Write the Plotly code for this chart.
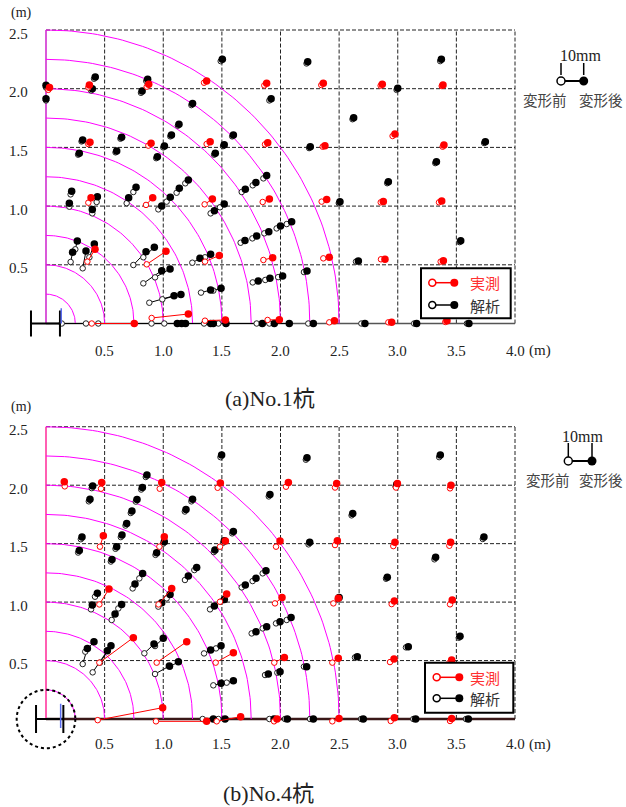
import numpy as np
import plotly.graph_objects as go

W, H = 626, 807

# ---------------- (a) No.1 pile ----------------
# measured (実測): before -> after positions, displacement exaggerated
a_meas_x0 = [0.02, 0.361, 0.859, 1.348, 1.862, 2.348, 2.854, 3.375,
             0.361, 0.873, 1.37, 1.868, 2.36, 2.956, 3.383,
             0.361, 0.853, 1.353, 1.848, 2.351, 2.855, 3.352,
             0.353, 0.859, 1.356, 1.854, 2.365, 2.857, 3.366,
             0.39, 0.901, 1.356, 1.89, 2.416, 2.92, 3.406]
a_meas_y0 = [1.99, 2.011, 2.017, 2.051, 2.028, 2.031, 2.026, 2.023,
             1.529, 1.515, 1.529, 1.526, 1.506, 1.597, 1.506,
             1.029, 1.01, 1.015, 1.035, 1.038, 1.032, 1.032,
             0.527, 0.504, 0.527, 0.541, 0.555, 0.547, 0.527,
             0.0, 0.047, 0.024, 0.03, 0.01, 0.01, 0.013]
a_meas_x1 = [0.03, 0.37, 0.876, 1.37, 1.882, 2.365, 2.868, 3.386,
             0.375, 0.896, 1.4, 1.891, 2.379, 2.976, 3.394,
             0.384, 0.91, 1.419, 1.905, 2.394, 2.877, 3.375,
             0.418, 1.023, 1.478, 1.933, 2.416, 2.891, 3.389,
             0.753, 1.214, 1.53, 1.99, 2.46, 2.948, 3.42]
a_meas_y1 = [2.01, 2.031, 2.037, 2.066, 2.046, 2.046, 2.037, 2.032,
             1.543, 1.535, 1.549, 1.54, 1.515, 1.614, 1.52,
             1.072, 1.072, 1.06, 1.06, 1.057, 1.04, 1.043,
             0.632, 0.615, 0.58, 0.561, 0.564, 0.547, 0.535,
             0.0, 0.081, 0.03, 0.033, 0.024, 0.01, 0.024]

# analysis (解析): before -> after positions
a_anal_x0 = [0.0, 0.0, 0.41, 0.385, 0.855, 0.81, 1.49, 1.24, 1.905, 2.222, 3.362, 2.99,
             1.125, 1.06, 1.0, 0.94, 1.588, 1.51, 1.434, 0.635, 0.593, 0.303, 0.274,
             2.614, 2.244, 3.737, 3.32, 2.91, 2.497, 3.527, 2.644, 2.2,
             0.21, 0.199, 0.432, 0.395, 0.745, 0.688, 1.188, 1.114, 1.029, 0.958,
             1.484, 1.404, 1.854, 1.763, 1.669, 2.053, 1.967, 1.862, 1.76, 1.66,
             0.21, 0.25, 0.313, 0.37, 0.745, 0.83, 0.83, 0.93, 0.881, 0.992,
             1.356, 1.248, 1.427, 1.322, 1.98, 1.87, 1.763,
             0.134, 0.341, 0.446, 0.9, 1.009, 1.348, 1.47, 1.797, 1.905, 2.237,
             2.69, 3.14, 3.59]
a_anal_y0 = [2.01, 1.9, 2.085, 1.985, 2.065, 1.965, 2.235, 1.86, 1.9, 2.215, 2.235, 1.99,
             1.685, 1.594, 1.5, 1.408, 1.594, 1.511, 1.438, 1.574, 1.458, 1.551, 1.438,
             1.74, 1.494, 1.537, 1.366, 1.195, 1.026, 0.693, 0.527, 0.438,
             1.1, 0.995, 1.035, 0.938, 1.12, 1.025, 1.194, 1.114, 1.038, 0.972,
             0.99, 0.938, 1.236, 1.177, 1.12, 0.847, 0.81, 0.768, 0.725, 0.688,
             0.524, 0.632, 0.47, 0.564, 0.498, 0.564, 0.342, 0.393, 0.177, 0.206,
             0.564, 0.518, 0.28, 0.263, 0.395, 0.371, 0.35,
             0.0, 0.0, 0.0, 0.0, 0.0, 0.0, 0.0, 0.0, 0.0, 0.0,
             0.0, 0.0, 0.0]
a_anal_x1 = [0.0, 0.0, 0.42, 0.395, 0.867, 0.82, 1.504, 1.25, 1.92, 2.232, 3.372, 3.0,
             1.134, 1.07, 1.01, 0.95, 1.598, 1.52, 1.444, 0.645, 0.603, 0.313, 0.284,
             2.624, 2.254, 3.747, 3.33, 2.92, 2.507, 3.537, 2.664, 2.226,
             0.219, 0.199, 0.438, 0.395, 0.768, 0.705, 1.214, 1.137, 1.06, 0.987,
             1.52, 1.436, 1.882, 1.79, 1.70, 2.095, 2.0, 1.9, 1.797, 1.697,
             0.227, 0.267, 0.341, 0.412, 0.853, 0.924, 0.987, 1.058, 1.092, 1.151,
             1.404, 1.313, 1.493, 1.404, 2.018, 1.91, 1.81,
             1.12, 1.157, 1.19, 1.404, 1.427, 1.535, 1.845, 1.947, 2.075, 2.28,
             2.72, 3.161, 3.607]
a_anal_y1 = [2.03, 1.915, 2.10, 2.0, 2.08, 1.98, 2.25, 1.875, 1.915, 2.23, 2.25, 2.003,
             1.697, 1.606, 1.512, 1.42, 1.606, 1.523, 1.45, 1.586, 1.47, 1.563, 1.45,
             1.753, 1.506, 1.549, 1.378, 1.208, 1.038, 0.705, 0.532, 0.447,
             1.126, 1.024, 1.08, 0.972, 1.16, 1.072, 1.222, 1.151, 1.075, 1.0,
             1.018, 0.961, 1.26, 1.2, 1.143, 0.867, 0.83, 0.782, 0.745, 0.706,
             0.606, 0.703, 0.617, 0.677, 0.612, 0.649, 0.45, 0.464, 0.237, 0.248,
             0.589, 0.555, 0.3, 0.285, 0.405, 0.385, 0.362,
             0.0, 0.0, 0.0, 0.0, 0.0, 0.0, 0.0, 0.0, 0.0, 0.0,
             0.0, 0.0, 0.0]

# ---------------- (b) No.4 pile ----------------
b_meas_x0 = [0.16, 0.469, 0.97, 1.464, 2.047, 2.465, 2.985, 3.446,
             0.46, 0.967, 1.484, 1.962, 2.465, 2.962, 3.44,
             0.455, 0.96, 1.484, 1.953, 2.451, 2.948, 3.446,
             0.455, 0.944, 1.447, 1.947, 2.442, 2.934, 3.44,
             0.441, 0.938, 1.456, 1.945, 2.442, 2.94, 3.446]
b_meas_y0 = [1.99, 1.97, 1.97, 1.978, 1.987, 1.98, 1.98, 1.973,
             1.474, 1.474, 1.474, 1.474, 1.488, 1.479, 1.482,
             0.98, 0.98, 1.003, 0.989, 0.989, 0.983, 0.981,
             0.482, 0.482, 0.482, 0.482, 0.482, 0.487, 0.48,
             -0.01, -0.02, -0.02, -0.02, -0.02, -0.017, -0.017]
b_meas_x1 = [0.156, 0.475, 0.987, 1.487, 2.067, 2.479, 2.997, 3.454,
             0.489, 1.009, 1.53, 1.996, 2.485, 2.976, 3.451,
             0.537, 1.072, 1.541, 2.013, 2.493, 2.971, 3.465,
             0.745, 1.2, 1.598, 2.033, 2.493, 2.968, 3.46,
             0.995, 1.37, 1.66, 1.97, 2.499, 2.971, 3.46]
b_meas_y1 = [2.03, 2.024, 2.024, 2.018, 2.024, 2.015, 2.015, 2.0,
             1.568, 1.559, 1.522, 1.522, 1.525, 1.511, 1.511,
             1.112, 1.117, 1.069, 1.04, 1.032, 1.009, 1.018,
             0.696, 0.661, 0.567, 0.527, 0.519, 0.513, 0.505,
             0.097, -0.02, 0.02, 0.0, 0.005, 0.01, 0.005]

b_anal_x0 = [0.39, 0.365, 0.851, 0.812, 0.766, 0.723, 0.678, 0.638, 0.593, 0.553,
             1.488, 1.24, 1.184, 0.297, 0.274, 0.999, 0.934, 1.511, 1.431, 1.588,
             1.9, 2.216, 2.239, 3.353, 2.981, 2.606, 3.725, 3.313,
             2.9, 2.49, 3.521, 3.07, 2.635,
             0.796, 0.739, 1.265, 1.185, 1.848, 1.762, 1.669, 0.418, 0.384, 0.617, 0.56,
             1.029, 0.958, 1.49, 1.399, 2.053, 1.962, 1.848, 1.754,
             0.335, 0.313, 0.398, 0.461, 0.839, 0.93, 0.93, 1.058,
             1.45, 1.348, 1.541, 1.427, 1.973, 1.868, 2.2,
             1.336, 1.47, 1.905, 2.038, 2.252, 2.687, 3.133, 3.582]
b_anal_y0 = [1.975, 1.862, 2.07, 1.963, 1.86, 1.762, 1.655, 1.556, 1.456, 1.347,
             2.24, 1.862, 1.775, 1.538, 1.424, 1.5, 1.404, 1.508, 1.428, 1.588,
             1.904, 2.218, 1.494, 2.24, 1.99, 1.742, 1.54, 1.366,
             1.2, 1.025, 0.695, 0.613, 0.527,
             1.203, 1.117, 1.274, 1.189, 1.246, 1.18, 1.126, 1.046, 0.938, 0.946, 0.847,
             1.032, 0.961, 1.003, 0.938, 0.847, 0.818, 0.775, 0.732,
             0.576, 0.47, 0.399, 0.482, 0.562, 0.624, 0.385, 0.447,
             0.604, 0.561, 0.311, 0.288, 0.396, 0.376, 0.448,
             0.0, 0.0, 0.0, 0.0, 0.0, 0.0, 0.0, 0.0]
b_anal_x1 = [0.398, 0.375, 0.861, 0.822, 0.776, 0.733, 0.688, 0.648, 0.603, 0.563,
             1.498, 1.25, 1.194, 0.307, 0.284, 1.009, 0.944, 1.521, 1.441, 1.598,
             1.91, 2.226, 2.249, 3.363, 2.991, 2.616, 3.735, 3.323,
             2.911, 2.5, 3.531, 3.09, 2.655,
             0.824, 0.759, 1.285, 1.214, 1.876, 1.791, 1.70, 0.438, 0.395, 0.645, 0.589,
             1.058, 0.987, 1.521, 1.436, 2.09, 1.996, 1.882, 1.791,
             0.409, 0.353, 0.523, 0.554, 0.921, 1.0, 1.052, 1.129,
             1.493, 1.404, 1.598, 1.493, 1.996, 1.896, 2.223,
             1.427, 1.527, 1.945, 2.058, 2.28, 2.706, 3.153, 3.602]
b_anal_y1 = [1.993, 1.88, 2.087, 1.98, 1.878, 1.779, 1.673, 1.574, 1.474, 1.365,
             2.258, 1.88, 1.793, 1.556, 1.442, 1.517, 1.422, 1.525, 1.445, 1.605,
             1.921, 2.235, 1.511, 2.258, 2.007, 1.759, 1.556, 1.383,
             1.212, 1.04, 0.707, 0.619, 0.533,
             1.245, 1.154, 1.297, 1.223, 1.268, 1.203, 1.146, 1.075, 0.975, 0.98, 0.898,
             1.066, 0.995, 1.023, 0.966, 0.869, 0.832, 0.79, 0.747,
             0.661, 0.604, 0.584, 0.627, 0.641, 0.69, 0.453, 0.49,
             0.627, 0.59, 0.328, 0.305, 0.405, 0.385, 0.448,
             0.0, 0.0, 0.0, 0.0, 0.0, 0.0, 0.0, 0.0]

# axes / grid
grid_x = [0.5, 1.0, 1.5, 2.0, 2.5, 3.0, 3.5]
grid_y = [0.5, 1.0, 1.5, 2.0]
x_ticks = [0.5, 1.0, 1.5, 2.0, 2.5, 3.0, 3.5, 4.0]
x_tick_text = ["0.5", "1.0", "1.5", "2.0", "2.5", "3.0", "3.5", "4.0"]
y_ticks = [0.5, 1.0, 1.5, 2.0, 2.5]
y_tick_text = ["0.5", "1.0", "1.5", "2.0", "2.5"]
radii = [0.25, 0.5, 0.75, 1.0, 1.25, 1.5, 1.75, 2.0, 2.25, 2.5]

SERIF = "Liberation Serif, Noto Sans CJK JP, serif"
JP = "Noto Sans CJK JP, sans-serif"
RED = "#ff0000"
BLK = "#000000"

# page geometry (pixels)
X_ZERO, X_SCALE = 46.0, 117.25
X_RANGE = [-0.32, 4.05]
Y_RANGE = [-0.32, 2.55]
panels = [
    dict(name="a", xa="x", ya="y", y_zero=323.5, y_scale=117.4,
         meas=(a_meas_x0, a_meas_y0, a_meas_x1, a_meas_y1),
         anal=(a_anal_x0, a_anal_y0, a_anal_x1, a_anal_y1),
         title="(a)No.1杭", title_xy=(270, 399), lab_dy=27,
         edge_left="#cc22cc", edge_bottom="#555555", edge_bw=1.5,
         pile=dict(fl=-0.128, fr=0.119, h=0.11, blue_x=0.13, blue=(0.0, 0.13)),
         circle=False,
         legend_box=(421, 268.3, 510.7, 318.3), legend_rows=(282.7, 305.0),
         legend_sym=(432.3, 454.3), legend_text_x=485,
         scale=dict(text=(580.5, 56), tick=(561, 583.7, 63, 75), cy=81,
                    lab=(545, 601, 99)),
         munit=(21, 13)),
    dict(name="b", xa="x2", ya="y2", y_zero=719.0, y_scale=116.9,
         meas=(b_meas_x0, b_meas_y0, b_meas_x1, b_meas_y1),
         anal=(b_anal_x0, b_anal_y0, b_anal_x1, b_anal_y1),
         title="(b)No.4杭", title_xy=(268, 793), lab_dy=25,
         edge_left="#ff2a99", edge_bottom="#3a1818", edge_bw=2.5,
         pile=dict(fl=-0.085, fr=0.148, h=0.12, blue_x=0.125, blue=(-0.077, 0.13)),
         circle=True,
         legend_box=(425, 662.7, 513.3, 712.7), legend_rows=(677.3, 698.3),
         legend_sym=(436.7, 459.3), legend_text_x=485.3,
         scale=dict(text=(582, 436), tick=(568.3, 592, 443, 457), cy=461,
                    lab=(548, 601, 479)),
         munit=(21, 407)),
]


def px(x):
    return x / W


def py(y):
    return 1 - y / H


fig = go.Figure()
shapes, annos = [], []
layout_axes = {}

for i, p in enumerate(panels):
    xa, ya = p["xa"], p["ya"]
    xk = "xaxis" if i == 0 else "xaxis2"
    yk = "yaxis" if i == 0 else "yaxis2"
    xdom = [(X_ZERO + X_RANGE[0] * X_SCALE) / W, (X_ZERO + X_RANGE[1] * X_SCALE) / W]
    ydom = [py(p["y_zero"] - Y_RANGE[0] * p["y_scale"]), py(p["y_zero"] - Y_RANGE[1] * p["y_scale"])]
    layout_axes[xk] = dict(range=X_RANGE, domain=xdom, visible=False, anchor=ya, fixedrange=True)
    layout_axes[yk] = dict(range=Y_RANGE, domain=ydom, visible=False, anchor=xa, fixedrange=True)

    grid = dict(color="#222222", width=1, dash="4px,2px")
    for gx in grid_x + [4.0]:
        shapes.append(dict(type="line", xref=xa, yref=ya, x0=gx, x1=gx, y0=0, y1=2.5,
                           line=grid, layer="below"))
    for gy in grid_y + [2.5]:
        shapes.append(dict(type="line", xref=xa, yref=ya, x0=0, x1=4.0, y0=gy, y1=gy,
                           line=grid, layer="below"))
    shapes.append(dict(type="line", xref=xa, yref=ya, x0=0, x1=4.0, y0=0, y1=0,
                       line=dict(color=p["edge_bottom"], width=p["edge_bw"]), layer="below"))
    shapes.append(dict(type="line", xref=xa, yref=ya, x0=0, x1=0, y0=0, y1=2.5,
                       line=dict(color=p["edge_left"], width=1.5), layer="below"))

    # concentric reference arcs around the pile
    th = np.linspace(0, np.pi / 2, 90)
    ax, ay = [], []
    for r in radii:
        ax += list(r * np.cos(th)) + [None]
        ay += list(r * np.sin(th)) + [None]
    fig.add_trace(go.Scatter(x=ax, y=ay, mode="lines", line=dict(color="#ff00ff", width=1),
                             xaxis=xa, yaxis=ya, hoverinfo="skip", showlegend=False))

    # displacement vectors: analysis first, measured on top
    for (x0, y0, x1, y1), col, ocol in [(p["anal"], BLK, "#222222"), (p["meas"], RED, RED)]:
        lx, ly = [], []
        for a, b, c, d in zip(x0, y0, x1, y1):
            lx += [a, c, None]
            ly += [b, d, None]
        fig.add_trace(go.Scatter(x=lx, y=ly, mode="lines", line=dict(color=col, width=1),
                                 xaxis=xa, yaxis=ya, hoverinfo="skip", showlegend=False))
        fig.add_trace(go.Scatter(x=x0, y=y0, mode="markers",
                                 marker=dict(symbol="circle", size=5.5, color="white",
                                             line=dict(color=ocol, width=1)),
                                 xaxis=xa, yaxis=ya, hoverinfo="skip", showlegend=False))
        fig.add_trace(go.Scatter(x=x1, y=y1, mode="markers",
                                 marker=dict(symbol="circle", size=7.5, color=col,
                                             line=dict(width=0)),
                                 xaxis=xa, yaxis=ya, hoverinfo="skip", showlegend=False))

    # H-pile section at the origin
    pl = p["pile"]
    pen = dict(color="#000000", width=2)
    shapes += [
        dict(type="line", xref=xa, yref=ya, x0=pl["fl"], x1=pl["fl"], y0=-pl["h"], y1=pl["h"], line=pen),
        dict(type="line", xref=xa, yref=ya, x0=pl["fr"], x1=pl["fr"], y0=-pl["h"], y1=pl["h"], line=pen),
        dict(type="line", xref=xa, yref=ya, x0=pl["fl"], x1=pl["fr"], y0=0, y1=0, line=pen),
        dict(type="line", xref=xa, yref=ya, x0=pl["blue_x"], x1=pl["blue_x"],
             y0=pl["blue"][0], y1=pl["blue"][1], line=dict(color="#5a6cf0", width=1.5)),
    ]
    if p["circle"]:
        shapes.append(dict(type="circle", xref=xa, yref=ya, x0=-0.25, x1=0.25, y0=-0.25, y1=0.25,
                           line=dict(color="#000000", width=2, dash="dot")))

    # tick labels
    lab_y = p["lab_dy"]
    for v, t in zip(x_ticks, x_tick_text):
        annos.append(dict(x=px(X_ZERO + v * X_SCALE), y=py(p["y_zero"] + lab_y), xref="paper", yref="paper",
                          text=t, showarrow=False, xanchor="center", yanchor="middle",
                          font=dict(family=SERIF, size=15, color="#222222")))
    annos.append(dict(x=px(X_ZERO + 4.0 * X_SCALE + 12), y=py(p["y_zero"] + lab_y), xref="paper", yref="paper",
                      text="(m)", showarrow=False, xanchor="left", yanchor="middle",
                      font=dict(family=SERIF, size=15, color="#222222")))
    for v, t in zip(y_ticks, y_tick_text):
        annos.append(dict(x=px(30), y=py(p["y_zero"] - v * p["y_scale"] + 3.5), xref="paper", yref="paper",
                          text=t, showarrow=False, xanchor="right", yanchor="middle",
                          font=dict(family=SERIF, size=15, color="#222222")))
    mx, my = p["munit"]
    annos.append(dict(x=px(mx), y=py(my), xref="paper", yref="paper", text="(m)", showarrow=False,
                      xanchor="center", yanchor="middle", font=dict(family=SERIF, size=14, color="#222222")))
    tx, ty = p["title_xy"]
    annos.append(dict(x=px(tx), y=py(ty), xref="paper", yref="paper", text=p["title"], showarrow=False,
                      xanchor="center", yanchor="middle", font=dict(family=SERIF, size=22, color="#222222")))

    # legend box
    bx0, by0, bx1, by1 = p["legend_box"]
    shapes.append(dict(type="rect", xref="paper", yref="paper", x0=px(bx0), x1=px(bx1),
                       y0=py(by1), y1=py(by0), line=dict(color="#000000", width=2),
                       fillcolor="white", layer="above"))
    sx0, sx1 = p["legend_sym"]
    for row_y, col, txt in zip(p["legend_rows"], [RED, BLK], ["実測", "解析"]):
        shapes.append(dict(type="line", xref="paper", yref="paper", x0=px(sx0), x1=px(sx1),
                           y0=py(row_y), y1=py(row_y), line=dict(color=col, width=1.5), layer="above"))
        shapes.append(dict(type="circle", xref="paper", yref="paper", x0=px(sx0 - 3.5), x1=px(sx0 + 3.5),
                           y0=py(row_y + 3.5), y1=py(row_y - 3.5), fillcolor="white",
                           line=dict(color=col, width=1.5), layer="above"))
        shapes.append(dict(type="circle", xref="paper", yref="paper", x0=px(sx1 - 4), x1=px(sx1 + 4),
                           y0=py(row_y + 4), y1=py(row_y - 4), fillcolor=col,
                           line=dict(color=col, width=0), layer="above"))
        annos.append(dict(x=px(p["legend_text_x"]), y=py(row_y), xref="paper", yref="paper", text=txt,
                          showarrow=False, xanchor="center", yanchor="middle",
                          font=dict(family=JP, size=15, color="#ff3030" if col == RED else "#333333")))

    # displacement scale key (10mm)
    sc = p["scale"]
    t0, t1, ty0, ty1 = sc["tick"]
    annos.append(dict(x=px(sc["text"][0]), y=py(sc["text"][1]), xref="paper", yref="paper", text="10mm",
                      showarrow=False, xanchor="center", yanchor="middle",
                      font=dict(family=SERIF, size=16, color="#222222")))
    for tx_ in (t0, t1):
        shapes.append(dict(type="line", xref="paper", yref="paper", x0=px(tx_), x1=px(tx_),
                           y0=py(ty1), y1=py(ty0), line=dict(color="#000000", width=1.5)))
    cy = sc["cy"]
    shapes.append(dict(type="line", xref="paper", yref="paper", x0=px(t0), x1=px(t1),
                       y0=py(cy), y1=py(cy), line=dict(color="#000000", width=2)))
    shapes.append(dict(type="circle", xref="paper", yref="paper", x0=px(t0 - 4), x1=px(t0 + 4),
                       y0=py(cy + 4), y1=py(cy - 4), fillcolor="white",
                       line=dict(color="#000000", width=1.5)))
    shapes.append(dict(type="circle", xref="paper", yref="paper", x0=px(t1 - 4.5), x1=px(t1 + 4.5),
                       y0=py(cy + 4.5), y1=py(cy - 4.5), fillcolor="#000000",
                       line=dict(color="#000000", width=0)))
    l0, l1, ly_ = sc["lab"]
    for lx_, txt in ((l0, "変形前"), (l1, "変形後")):
        annos.append(dict(x=px(lx_), y=py(ly_), xref="paper", yref="paper", text=txt, showarrow=False,
                          xanchor="center", yanchor="middle",
                          font=dict(family=JP, size=14.5, color="#444444")))

fig.update_layout(
    width=W, height=H, autosize=False,
    margin=dict(l=0, r=0, t=0, b=0, pad=0),
    paper_bgcolor="white", plot_bgcolor="white",
    showlegend=False,
    shapes=shapes, annotations=annos,
    **layout_axes,
)

fig.write_html("out.html")
